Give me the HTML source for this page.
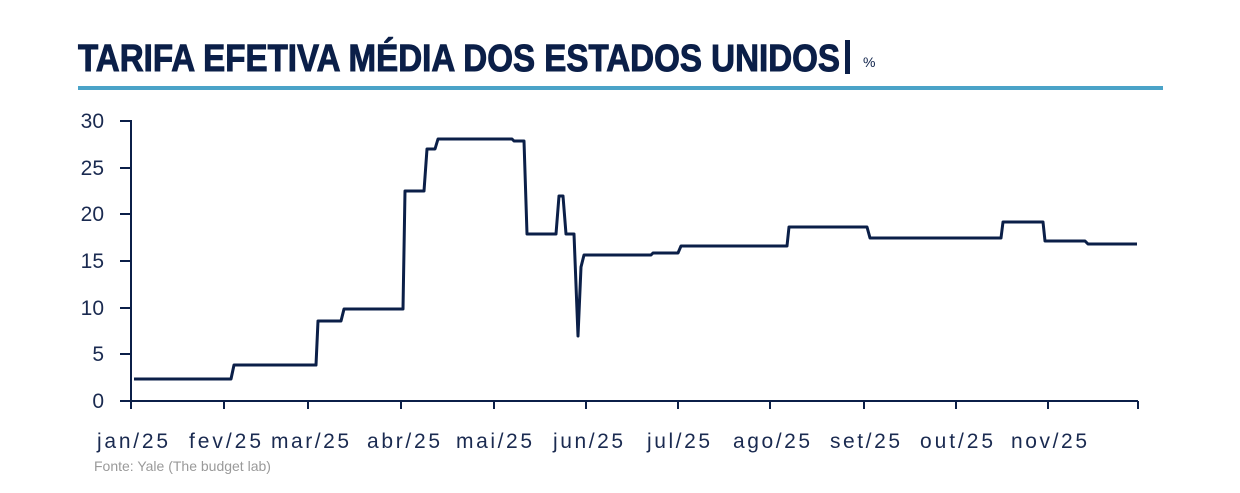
<!DOCTYPE html>
<html><head><meta charset="utf-8"><style>
html,body{margin:0;padding:0;background:#fff;}
svg{display:block;}
</style></head><body>
<svg width="1240" height="493" viewBox="0 0 1240 493" xmlns="http://www.w3.org/2000/svg" font-family="Liberation Sans, sans-serif">
<text x="78" y="71" font-size="38" font-weight="bold" fill="#0b1f48" stroke="#0b1f48" stroke-width="1" textLength="762" lengthAdjust="spacingAndGlyphs">TARIFA EFETIVA MÉDIA DOS ESTADOS UNIDOS</text>
<rect x="845" y="40" width="5" height="34" fill="#0b1f48"/>
<text x="863" y="67" font-size="14" fill="#0b1f48">%</text>
<rect x="78" y="86" width="1085" height="4" fill="#4aa3c8"/>
<g stroke="#0b1f48" stroke-width="2" fill="none">
<line x1="131" y1="120" x2="131" y2="409"/>
<line x1="120" y1="401" x2="1138" y2="401"/>
<line x1="120" y1="121" x2="131" y2="121"/>
<line x1="120" y1="168" x2="131" y2="168"/>
<line x1="120" y1="214" x2="131" y2="214"/>
<line x1="120" y1="261" x2="131" y2="261"/>
<line x1="120" y1="308" x2="131" y2="308"/>
<line x1="120" y1="354" x2="131" y2="354"/>
<line x1="224" y1="401" x2="224" y2="409"/>
<line x1="308" y1="401" x2="308" y2="409"/>
<line x1="401" y1="401" x2="401" y2="409"/>
<line x1="494" y1="401" x2="494" y2="409"/>
<line x1="586" y1="401" x2="586" y2="409"/>
<line x1="678" y1="401" x2="678" y2="409"/>
<line x1="770" y1="401" x2="770" y2="409"/>
<line x1="864" y1="401" x2="864" y2="409"/>
<line x1="956" y1="401" x2="956" y2="409"/>
<line x1="1048" y1="401" x2="1048" y2="409"/>
<line x1="1138" y1="401" x2="1138" y2="409"/>
</g>
<g font-size="21" fill="#1a2a50" text-anchor="end">
<text x="104" y="128">30</text>
<text x="104" y="175">25</text>
<text x="104" y="221">20</text>
<text x="104" y="268">15</text>
<text x="104" y="315">10</text>
<text x="104" y="361">5</text>
<text x="104" y="408">0</text>
</g>
<g font-size="21" fill="#1a2a50" lengthAdjust="spacing">
<text x="97" y="448" textLength="71">jan/25</text>
<text x="189" y="448" textLength="72">fev/25</text>
<text x="271" y="448" textLength="78">mar/25</text>
<text x="367" y="448" textLength="73">abr/25</text>
<text x="456" y="448" textLength="76">mai/25</text>
<text x="553" y="448" textLength="70">jun/25</text>
<text x="647" y="448" textLength="63">jul/25</text>
<text x="733" y="448" textLength="77">ago/25</text>
<text x="830" y="448" textLength="70">set/25</text>
<text x="920" y="448" textLength="73">out/25</text>
<text x="1011" y="448" textLength="76">nov/25</text>
</g>
<text x="94" y="471" font-size="14" fill="#9a9a9a">Fonte: Yale (The budget lab)</text>
<polyline fill="none" stroke="#0b1f48" stroke-width="3" stroke-linejoin="round" points="
134,379 231,379 234,365 316,365 318,321 341,321 344,309 403,309 405,191 424,191 427,149 435,149 438,139 512,139 514,141 524,141 527,234 556,234 559,196 563,196 566,234 574,234 578,336 581,267 584,255 651,255 653,253 678,253 681,246 787,246 789,227 867,227 870,238 1001,238 1003,222 1043,222 1045,241 1085,241 1088,244 1137,244"/>
</svg>
</body></html>
